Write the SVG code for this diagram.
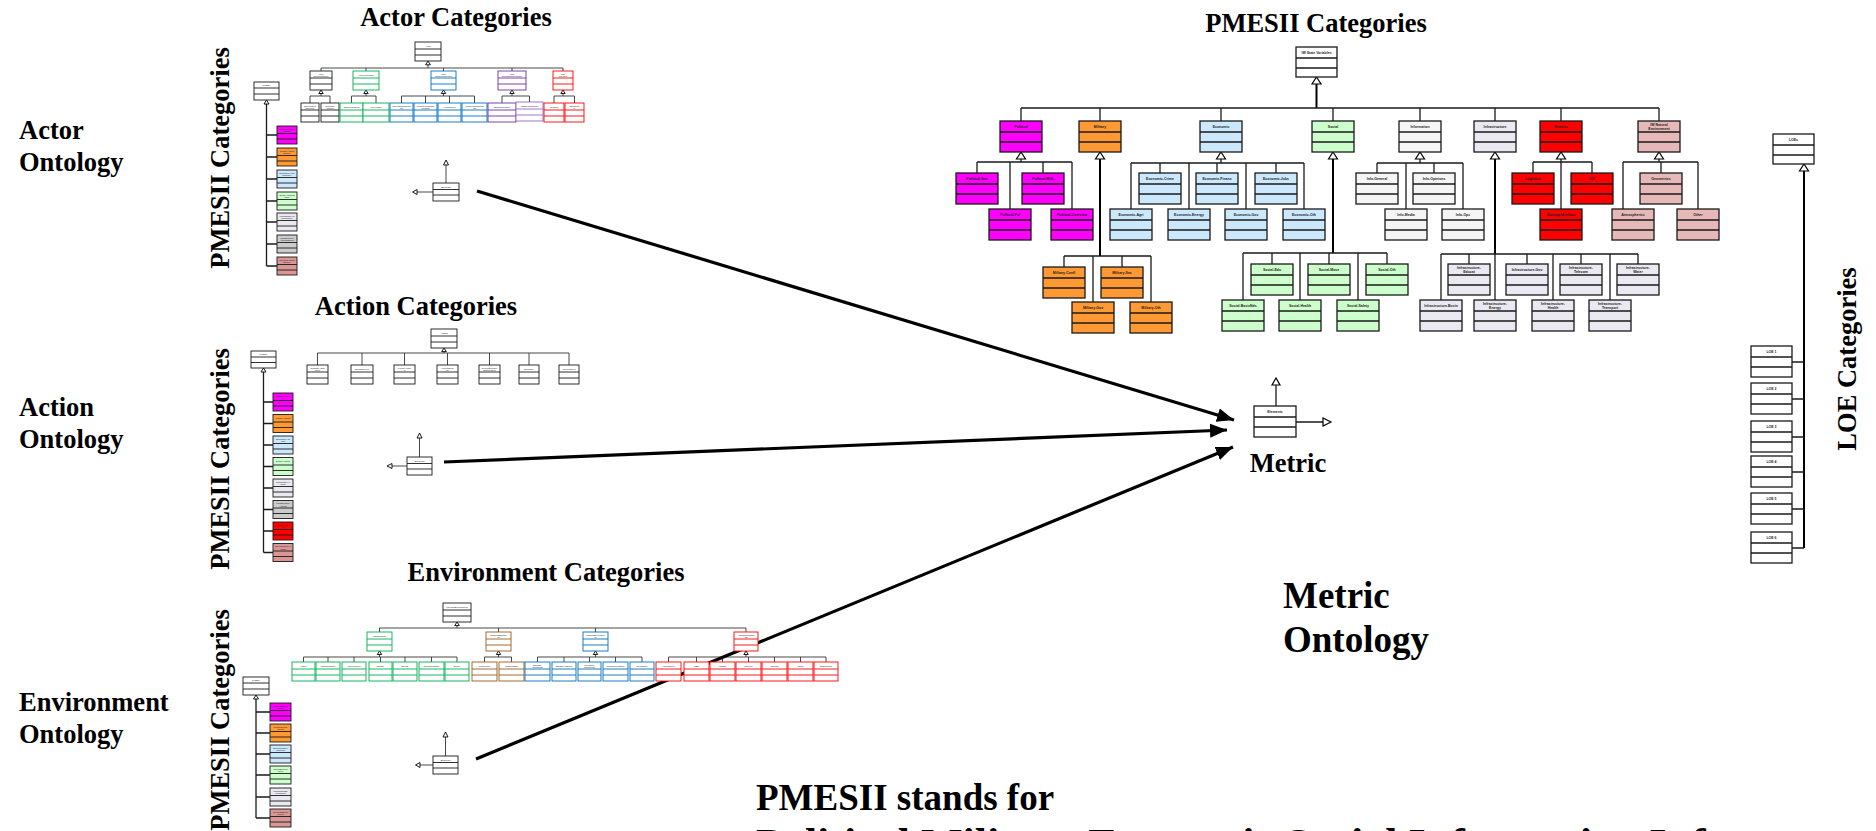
<svg xmlns="http://www.w3.org/2000/svg" width="1876" height="831" viewBox="0 0 1876 831">
<defs>
<style>
.h{font-family:"Liberation Serif","Times New Roman",serif;font-weight:bold;fill:#000}
.t26{font-size:26.5px}
.t37{font-size:37px}
.t44{font-size:44px}
.mid{text-anchor:middle}
.s{font-family:"Liberation Sans",Arial,sans-serif;font-size:2.3px;text-anchor:middle;fill:#222;stroke:none}
.p{font-family:"Liberation Sans",Arial,sans-serif;font-size:3.5px;font-weight:bold;text-anchor:middle;fill:#222;stroke:none}
.bx{stroke:#1a1a1a;stroke-width:0.9;fill:none}
.pb{stroke:#1a1a1a;stroke-width:1.3;fill:none}
.sk{stroke:#1a1a1a}.sg{stroke:#00B050}.sb{stroke:#0070C0}.sp{stroke:#7030A0}.sp2{stroke:#9966CC}.sr{stroke:#FF0000}.sn{stroke:#9C5A1E}
.w{fill:#fff}.mag{fill:#FF00FF}.org{fill:#FF9933}.lb{fill:#CCE8FC}.lg{fill:#CCFFCC}.inf{fill:#F5F5F5}.lav{fill:#EAE8F0}.gr{fill:#CCCCCC}.red{fill:#FF0000}.sal{fill:#D99694}.pnk{fill:#E6B9B8}
.ln{fill:none;stroke:#333;stroke-width:0.9}
.lk{fill:none;stroke:#1a1a1a;stroke-width:1.3}
.tk{fill:none;stroke:#000;stroke-width:2}
.tri{fill:#fff;stroke:#000;stroke-width:0.9}
.trp{fill:#fff;stroke:#000;stroke-width:1.2}
.big{fill:none;stroke:#000;stroke-width:3.2;marker-end:url(#ah)}
</style>
<marker id="ah" markerUnits="userSpaceOnUse" markerWidth="18" markerHeight="16" refX="17" refY="8" orient="auto">
<path d="M0 1L17 8L0 15z" fill="#000"/>
</marker>
</defs>
<rect width="1876" height="831" fill="#fff"/>

<!-- headings -->
<g id="labels">
<text class="h t26" x="19" y="139">Actor</text>
<text class="h t26" x="19" y="171">Ontology</text>
<text class="h t26" x="19" y="416">Action</text>
<text class="h t26" x="19" y="448">Ontology</text>
<text class="h t26" x="19" y="711">Environment</text>
<text class="h t26" x="19" y="743">Ontology</text>
<text class="h t26 mid" transform="translate(229 158) rotate(-90)">PMESII Categories</text>
<text class="h t26 mid" transform="translate(229 459) rotate(-90)">PMESII Categories</text>
<text class="h t26 mid" transform="translate(229 720) rotate(-90)">PMESII Categories</text>
<text class="h t26 mid" transform="translate(1856 359) rotate(-90)">LOE Categories</text>
<text class="h t26 mid" x="456" y="26">Actor Categories</text>
<text class="h t26 mid" x="416" y="315">Action Categories</text>
<text class="h t26 mid" x="546" y="581">Environment Categories</text>
<text class="h t26 mid" x="1316" y="32">PMESII Categories</text>
<text class="h t26 mid" x="1288" y="472">Metric</text>
<text class="h t37" x="1283" y="608">Metric</text>
<text class="h t37" x="1283" y="652">Ontology</text>
<text class="h t37" x="756" y="810">PMESII stands for</text>
<text class="h t44" x="756" y="859">Political Military Economic Social Information Infrastructure</text>
</g>

<!-- connectors -->
<g id="connectors">
<!-- actor tree -->
<path class="ln" d="M428 65V68M321 68H563M321 68V71M366 68V71M443.5 68V71M512 68V71M563 68V71"/>
<path class="ln" d="M321 93.5V96M310 96H330M310 96V103M330 96V103"/>
<path class="ln" d="M366 93.5V96M351.5 96H376M351.5 96V103M376 96V103"/>
<path class="ln" d="M443.5 93.5V96M401.5 96H474.5M401.5 96V103M425.5 96V103M449.5 96V103M474.5 96V103"/>
<path class="ln" d="M512 93.5V96M502 96H529.5M502 96V103M529.5 96V103"/>
<path class="ln" d="M563 93.5V96M554 96H574.5M554 96V103M574.5 96V103"/>
<path class="tri" d="M428 61l-2.4 3.8h4.8zM321 90l-2.2 3.5h4.4zM366 90l-2.2 3.5h4.4zM443.5 90l-2.2 3.5h4.4zM512 90l-2.2 3.5h4.4zM563 90l-2.2 3.5h4.4z"/>
<path class="ln" d="M446 183V165M433 192H417"/>
<path class="tri" d="M446 160l-2.5 5h5zM412.5 192l4.5-2.5v5z"/>
<path class="lk" d="M266.5 104V266M266.5 135H277M266.5 157H277M266.5 179H277M266.5 201H277M266.5 222H277M266.5 244H277M266.5 266H277"/>
<path class="tri" d="M266.5 100l-2.5 4h5z"/>
<!-- action tree -->
<path class="ln" d="M444 351.6V353M317.5 353H569M317.5 353V365M362 353V365M404.5 353V365M447.5 353V365M489.5 353V365M529 353V365M569 353V365"/>
<path class="tri" d="M444 348l-2.3 3.6h4.6z"/>
<path class="ln" d="M419.5 457V438M407 466H392"/>
<path class="tri" d="M419.5 433l-2.5 5h5zM387 466l5-2.5v5z"/>
<path class="lk" d="M263.5 372V552.5M263.5 402H273M263.5 423.5H273M263.5 445H273M263.5 466.5H273M263.5 488H273M263.5 509.5H273M263.5 531H273M263.5 552.5H273"/>
<path class="tri" d="M263.5 368l-2.5 4h5z"/>
<!-- environment tree -->
<path class="ln" d="M457 625.6V628M379.5 628H746M379.5 628V632M498.5 628V632M595.5 628V632M746 628V632"/>
<path class="ln" d="M379.5 654.5V657M303.5 657H457M303.5 657V662M328 657V662M354 657V662M380.5 657V662M405 657V662M431.5 657V662M457 657V662"/>
<path class="ln" d="M498.5 654.5V657M484.5 657H511.5M484.5 657V662M511.5 657V662"/>
<path class="ln" d="M595.5 654.5V657M537.5 657H642M537.5 657V662M564 657V662M589.5 657V662M615.5 657V662M642 657V662"/>
<path class="ln" d="M746 654.5V657M668.5 657H826M668.5 657V662M696.5 657V662M722.5 657V662M748.5 657V662M774.5 657V662M800.5 657V662M826 657V662"/>
<path class="tri" d="M457 622l-2.3 3.6h4.6zM379.5 651l-2.2 3.5h4.4zM498.5 651l-2.2 3.5h4.4zM595.5 651l-2.2 3.5h4.4zM746 651l-2.2 3.5h4.4z"/>
<path class="ln" d="M445.5 756V737M433 765H420"/>
<path class="tri" d="M445.5 732l-2.5 5h5zM415.5 765l4.5-2.5v5z"/>
<path class="lk" d="M256 699V818M256 712H270M256 733H270M256 754H270M256 775H270M256 797H270M256 818H270"/>
<path class="tri" d="M256 695l-2.5 4h5z"/>
<!-- PMESII tree -->
<path class="tk" d="M1316.5 84V108"/>
<path class="lk" d="M1021 108H1659M1021 108V121M1100 108V121M1221 108V121M1333 108V121M1420 108V121M1495 108V121M1561 108V121M1659 108V121"/>
<path class="lk" d="M1021 159V162M977 162H1072M977 162V173M1043 162V173M1010 162V209M1072 162V209"/>
<path class="tk" d="M1100 159V256"/>
<path class="lk" d="M1064 256H1151M1064 256V267M1122 256V267M1093 256V302M1151 256V302"/>
<path class="lk" d="M1221 159V163M1131 163H1304M1160 163V173M1217 163V173M1276 163V173M1131 163V209M1189 163V209M1246 163V209M1304 163V209"/>
<path class="tk" d="M1333 159V253"/>
<path class="lk" d="M1243 253H1387M1272 253V264M1329 253V264M1387 253V264M1243 253V300M1300 253V300M1358 253V300"/>
<path class="lk" d="M1420 159V163M1377 163H1463M1377 163V173M1434 163V173M1406 163V209M1463 163V209"/>
<path class="tk" d="M1495 159V254"/>
<path class="lk" d="M1441 254H1638M1469 254V264M1527 254V264M1581 254V264M1638 254V264M1441 254V300M1495 254V300M1553 254V300M1610 254V300"/>
<path class="lk" d="M1533 162H1592M1533 162V173M1592 162V173M1561 159V209"/>
<path class="lk" d="M1659 159V162M1623 162H1698M1661 162V173M1623 162V209M1698 162V209"/>
<path class="trp" d="M1316.5 77l-4.5 7h9zM1021 152l-4.5 7h9zM1100 152l-4.5 7h9zM1221 152l-4.5 7h9zM1333 152l-4.5 7h9zM1420 152l-4.5 7h9zM1495 152l-4.5 7h9zM1561 152l-4.5 7h9zM1659 152l-4.5 7h9z"/>
<!-- LOE tree -->
<path class="tk" d="M1804 171V548"/>
<path class="lk" d="M1792 362H1804M1792 399H1804M1792 437H1804M1792 472H1804M1792 509H1804M1792 548H1804"/>
<path class="trp" d="M1804 164l-4.5 7h9z"/>
<!-- metric -->
<path class="lk" d="M1276 406V385M1296 422H1323"/>
<path class="trp" d="M1276 378l-4 7h8zM1331 422l-8-4v8z"/>
<!-- elements feeding the metric -->
<path class="big" d="M477 191L1234 420"/>
<path class="big" d="M444 462L1227 430"/>
<path class="big" d="M476 759L1233 447"/>
</g>

<!-- actor ontology -->
<g id="actor-root" class="bx sk"><rect class="w" x="415" y="42" width="26" height="19"/><path d="M415 49h26M415 55h26"/><text class="s" x="428" y="47">Actor</text></g>
<g id="actor-noncombatant" class="bx sk"><rect class="w" x="310" y="71" width="22" height="19"/><path d="M310 78h22M310 84h22"/><text class="s" x="321" y="74.5">Actor-</text><text class="s" x="321" y="77">Noncombatant</text></g>
<g id="actor-individual" class="bx sg"><rect class="w" x="353" y="71" width="26" height="19"/><path d="M353 78h26M353 84h26"/><text class="s" x="366" y="76">Actor-Individual</text></g>
<g id="actor-organized" class="bx sb"><rect class="w" x="431" y="71" width="25" height="19"/><path d="M431 78h25M431 84h25"/><text class="s" x="443.5" y="74.5">Actor-</text><text class="s" x="443.5" y="77">OrganizedGroup</text></g>
<g id="actor-demographic" class="bx sp"><rect class="w" x="498" y="71" width="28" height="19"/><path d="M498 78h28M498 84h28"/><text class="s" x="512" y="74.5">Actor-</text><text class="s" x="512" y="77">DemographicGroup</text></g>
<g id="actor-physical" class="bx sr"><rect class="w" x="553" y="71" width="20" height="19"/><path d="M553 78h20M553 84h20"/><text class="s" x="563" y="74.5">Actor-</text><text class="s" x="563" y="77">Physical</text></g>
<g id="actor-nonpolitical" class="bx sk"><rect class="w" x="301" y="103" width="18" height="19"/><path d="M301 110h18M301 116h18"/><text class="s" x="310" y="106.5">NonPolitical</text><text class="s" x="310" y="109">Element</text></g>
<g id="actor-common" class="bx sk"><rect class="w" x="321" y="103" width="18" height="19"/><path d="M321 110h18M321 116h18"/><text class="s" x="330" y="106.5">Common</text><text class="s" x="330" y="109">Citizen</text></g>
<g id="actor-other-individual" class="bx sg"><rect class="w" x="340" y="103" width="23" height="19"/><path d="M340 110h23M340 116h23"/><text class="s" x="351.5" y="108">OtherIndividual</text></g>
<g id="actor-keyleader" class="bx sg"><rect class="w" x="363" y="103" width="26" height="19"/><path d="M363 110h26M363 116h26"/><text class="s" x="376" y="108">KeyLeader</text></g>
<g id="actor-societal-org" class="bx sb"><rect class="w" x="390" y="103" width="23" height="19"/><path d="M390 110h23M390 116h23"/><text class="s" x="401.5" y="106.5">SocietalOrganizat</text><text class="s" x="401.5" y="109">ion</text></g>
<g id="actor-commercial-org" class="bx sb"><rect class="w" x="414" y="103" width="23" height="19"/><path d="M414 110h23M414 116h23"/><text class="s" x="425.5" y="106.5">CommercialOrga</text><text class="s" x="425.5" y="109">nization</text></g>
<g id="actor-armed-force" class="bx sb"><rect class="w" x="438" y="103" width="23" height="19"/><path d="M438 110h23M438 116h23"/><text class="s" x="449.5" y="108">ArmedForce</text></g>
<g id="actor-political-org" class="bx sb"><rect class="w" x="462" y="103" width="25" height="19"/><path d="M462 110h25M462 116h25"/><text class="s" x="474.5" y="106.5">PoliticalOrganizat</text><text class="s" x="474.5" y="109">ion</text></g>
<g id="actor-static-pop" class="bx sp"><rect class="w" x="488" y="103" width="28" height="19"/><path d="M488 110h28M488 116h28"/><text class="s" x="502" y="108">StaticPopulation</text></g>
<g id="actor-mobile-pop" class="bx sp2"><rect class="w" x="516" y="102" width="27" height="19"/><path d="M516 109h27M516 115h27"/><text class="s" x="529.5" y="107">MobilePopulation</text></g>
<g id="actor-vehicle" class="bx sr"><rect class="w" x="544" y="103" width="20" height="19"/><path d="M544 110h20M544 116h20"/><text class="s" x="554" y="108">Vehicles</text></g>
<g id="actor-structure" class="bx sr"><rect class="w" x="565" y="103" width="19" height="19"/><path d="M565 110h19M565 116h19"/><text class="s" x="574.5" y="106.5">Structural</text><text class="s" x="574.5" y="109">el</text></g>
<g id="actor-elements" class="bx sk"><rect class="w" x="433" y="183" width="26" height="18"/><path d="M433 189.5h26M433 195h26"/><text class="s" x="446" y="187.5">Elements</text></g>
<g id="actor-pmesii" class="bx sk"><rect class="w" x="254" y="82" width="25" height="18"/><path d="M254 88h25M254 94h25"/><text class="s" x="266.5" y="86">PMESII</text></g>
<g id="actor-p1" class="bx sk"><rect class="mag" x="277" y="126" width="20" height="18"/><path d="M277 133.5h20M277 139h20"/><text class="s" x="287" y="129.5">PoliticalActorC</text><text class="s" x="287" y="132">ategory</text></g>
<g id="actor-p2" class="bx sk"><rect class="org" x="277" y="148" width="20" height="18"/><path d="M277 155.5h20M277 161h20"/><text class="s" x="287" y="151.5">MilitaryActorC</text><text class="s" x="287" y="154">ategory</text></g>
<g id="actor-p3" class="bx sk"><rect class="lb" x="277" y="170" width="20" height="18"/><path d="M277 177.5h20M277 183h20"/><text class="s" x="287" y="173.5">EconomicActor</text><text class="s" x="287" y="176">Category</text></g>
<g id="actor-p4" class="bx sk"><rect class="lg" x="277" y="192" width="20" height="18"/><path d="M277 199.5h20M277 205h20"/><text class="s" x="287" y="195.5">SocialActorCat</text><text class="s" x="287" y="198">egory</text></g>
<g id="actor-p5" class="bx sk"><rect class="lav" x="277" y="213" width="20" height="18"/><path d="M277 220.5h20M277 226h20"/><text class="s" x="287" y="216.5">InformationAct</text><text class="s" x="287" y="219">orCategory</text></g>
<g id="actor-p6" class="bx sk"><rect class="gr" x="277" y="235" width="20" height="18"/><path d="M277 242.5h20M277 248h20"/><text class="s" x="287" y="238.5">Infrastructure</text><text class="s" x="287" y="241">ActorCategory</text></g>
<g id="actor-p7" class="bx sk"><rect class="sal" x="277" y="257" width="20" height="18"/><path d="M277 264.5h20M277 270h20"/><text class="s" x="287" y="260.5">PhysicalActorC</text><text class="s" x="287" y="263">ategory</text></g>

<!-- action ontology -->
<g id="action-root" class="bx sk"><rect class="w" x="431" y="329" width="26" height="19"/><path d="M431 336h26M431 342h26"/><text class="s" x="444" y="334">Actions</text></g>
<g id="action-1" class="bx sk"><rect class="w" x="307" y="365" width="21" height="19"/><path d="M307 372h21M307 378h21"/><text class="s" x="317.5" y="368.5">DamageAttrib</text><text class="s" x="317.5" y="371">ution</text></g>
<g id="action-2" class="bx sk"><rect class="w" x="351" y="365" width="22" height="19"/><path d="M351 372h22M351 378h22"/><text class="s" x="362" y="370">DemandPerm</text></g>
<g id="action-3" class="bx sk"><rect class="w" x="394" y="365" width="21" height="19"/><path d="M394 372h21M394 378h21"/><text class="s" x="404.5" y="368.5">KineticAction</text><text class="s" x="404.5" y="371">s</text></g>
<g id="action-4" class="bx sk"><rect class="w" x="437" y="365" width="21" height="19"/><path d="M437 372h21M437 378h21"/><text class="s" x="447.5" y="368.5">KineticSecu</text><text class="s" x="447.5" y="371">rity</text></g>
<g id="action-5" class="bx sk"><rect class="w" x="479" y="365" width="21" height="19"/><path d="M479 372h21M479 378h21"/><text class="s" x="489.5" y="368.5">Reconstruction</text><text class="s" x="489.5" y="371">Stabilization</text></g>
<g id="action-6" class="bx sk"><rect class="w" x="519" y="365" width="20" height="19"/><path d="M519 372h20M519 378h20"/><text class="s" x="529" y="370">Economy</text></g>
<g id="action-7" class="bx sk"><rect class="w" x="559" y="365" width="20" height="19"/><path d="M559 372h20M559 378h20"/><text class="s" x="569" y="370">Government</text></g>
<g id="action-elements" class="bx sk"><rect class="w" x="407" y="457" width="25" height="18"/><path d="M407 463.5h25M407 469h25"/><text class="s" x="419.5" y="461.5">Elements</text></g>
<g id="action-pmesii" class="bx sk"><rect class="w" x="251" y="351" width="25" height="17"/><path d="M251 357h25M251 362.5h25"/><text class="s" x="263.5" y="355">PMESII</text></g>
<g id="action-p1" class="bx sk"><rect class="mag" x="273" y="393" width="20" height="18"/><path d="M273 400.5h20M273 406h20"/><text class="s" x="283" y="396.5">PoliticalAction</text><text class="s" x="283" y="399">s</text></g>
<g id="action-p2" class="bx sk"><rect class="org" x="273" y="414.5" width="20" height="18"/><path d="M273 422h20M273 427.5h20"/><text class="s" x="283" y="419">MilitaryActions</text></g>
<g id="action-p3" class="bx sk"><rect class="lb" x="273" y="436" width="20" height="18"/><path d="M273 443.5h20M273 449h20"/><text class="s" x="283" y="439.5">EconomicActi</text><text class="s" x="283" y="442">ons</text></g>
<g id="action-p4" class="bx sk"><rect class="lg" x="273" y="457.5" width="20" height="18"/><path d="M273 465h20M273 470.5h20"/><text class="s" x="283" y="462">SocialActions</text></g>
<g id="action-p5" class="bx sk"><rect class="lav" x="273" y="479" width="20" height="18"/><path d="M273 486.5h20M273 492h20"/><text class="s" x="283" y="482.5">InformationAc</text><text class="s" x="283" y="485">tions</text></g>
<g id="action-p6" class="bx sk"><rect class="gr" x="273" y="500.5" width="20" height="18"/><path d="M273 508h20M273 513.5h20"/><text class="s" x="283" y="504">Infrastructure</text><text class="s" x="283" y="506.5">Actions</text></g>
<g id="action-p7" class="bx sk"><rect class="red" x="273" y="522" width="20" height="18"/><path d="M273 529.5h20M273 535h20"/><text class="s" x="283" y="525.5">KineticAction</text><text class="s" x="283" y="528">s</text></g>
<g id="action-p8" class="bx sk"><rect class="sal" x="273" y="543.5" width="20" height="18"/><path d="M273 551h20M273 556.5h20"/><text class="s" x="283" y="547">EnvironmentAc</text><text class="s" x="283" y="549.5">tions</text></g>

<!-- environment ontology -->
<g id="env-root" class="bx sk"><rect class="w" x="443" y="603" width="28" height="19"/><path d="M443 610h28M443 616h28"/><text class="s" x="457" y="608">PhysicalEnvironment</text></g>
<g id="env-infrastructure" class="bx sg"><rect class="w" x="367" y="632" width="25" height="19"/><path d="M367 639h25M367 645h25"/><text class="s" x="379.5" y="637">Infrastructure</text></g>
<g id="env-cultural" class="bx sn"><rect class="w" x="486" y="632" width="25" height="19"/><path d="M486 639h25M486 645h25"/><text class="s" x="498.5" y="635.5">CulturalEquipme</text><text class="s" x="498.5" y="638">nt</text></g>
<g id="env-natural" class="bx sb"><rect class="w" x="583" y="632" width="25" height="19"/><path d="M583 639h25M583 645h25"/><text class="s" x="595.5" y="635.5">NaturalEnvironme</text><text class="s" x="595.5" y="638">nt</text></g>
<g id="env-atmospheric" class="bx sr"><rect class="w" x="734" y="632" width="24" height="19"/><path d="M734 639h24M734 645h24"/><text class="s" x="746" y="635.5">AtmosphericEffe</text><text class="s" x="746" y="638">cts</text></g>
<g id="env-g1" class="bx sg"><rect class="w" x="292" y="662" width="23" height="19"/><path d="M292 669h23M292 675h23"/><text class="s" x="303.5" y="667">Water</text></g>
<g id="env-g2" class="bx sg"><rect class="w" x="316" y="662" width="24" height="19"/><path d="M316 669h24M316 675h24"/><text class="s" x="328" y="667">Transportation</text></g>
<g id="env-g3" class="bx sg"><rect class="w" x="342" y="662" width="24" height="19"/><path d="M342 669h24M342 675h24"/><text class="s" x="354" y="667">Government</text></g>
<g id="env-g4" class="bx sg"><rect class="w" x="369" y="662" width="23" height="19"/><path d="M369 669h23M369 675h23"/><text class="s" x="380.5" y="667">Shelter</text></g>
<g id="env-g5" class="bx sg"><rect class="w" x="393" y="662" width="24" height="19"/><path d="M393 669h24M393 675h24"/><text class="s" x="405" y="667">Energy</text></g>
<g id="env-g6" class="bx sg"><rect class="w" x="419" y="662" width="25" height="19"/><path d="M419 669h25M419 675h25"/><text class="s" x="431.5" y="667">SewerDrainage</text></g>
<g id="env-g7" class="bx sg"><rect class="w" x="445" y="662" width="24" height="19"/><path d="M445 669h24M445 675h24"/><text class="s" x="457" y="667">Social</text></g>
<g id="env-n1" class="bx sn"><rect class="w" x="472" y="662" width="25" height="19"/><path d="M472 669h25M472 675h25"/><text class="s" x="484.5" y="667">Resources</text></g>
<g id="env-n2" class="bx sn"><rect class="w" x="499" y="662" width="25" height="19"/><path d="M499 669h25M499 675h25"/><text class="s" x="511.5" y="667">CulturalSites</text></g>
<g id="env-b1" class="bx sb"><rect class="w" x="525" y="662" width="25" height="19"/><path d="M525 669h25M525 675h25"/><text class="s" x="537.5" y="665.5">Disaster-</text><text class="s" x="537.5" y="668">WorldWide</text></g>
<g id="env-b2" class="bx sb"><rect class="w" x="552" y="662" width="24" height="19"/><path d="M552 669h24M552 675h24"/><text class="s" x="564" y="667">Disaster-Natural</text></g>
<g id="env-b3" class="bx sb"><rect class="w" x="578" y="662" width="23" height="19"/><path d="M578 669h23M578 675h23"/><text class="s" x="589.5" y="665.5">Condition-</text><text class="s" x="589.5" y="668">WorldWide</text></g>
<g id="env-b4" class="bx sb"><rect class="w" x="603" y="662" width="25" height="19"/><path d="M603 669h25M603 675h25"/><text class="s" x="615.5" y="667">Condition-Natural</text></g>
<g id="env-b5" class="bx sb"><rect class="w" x="630" y="662" width="24" height="19"/><path d="M630 669h24M630 675h24"/><text class="s" x="642" y="667">Geography</text></g>
<g id="env-r1" class="bx sr"><rect class="w" x="656" y="662" width="25" height="19"/><path d="M656 669h25M656 675h25"/><text class="s" x="668.5" y="667">Atmosphere</text></g>
<g id="env-r2" class="bx sr"><rect class="w" x="684" y="662" width="25" height="19"/><path d="M684 669h25M684 675h25"/><text class="s" x="696.5" y="667">Light</text></g>
<g id="env-r3" class="bx sr"><rect class="w" x="710" y="662" width="25" height="19"/><path d="M710 669h25M710 675h25"/><text class="s" x="722.5" y="667">Sights</text></g>
<g id="env-r4" class="bx sr"><rect class="w" x="736" y="662" width="25" height="19"/><path d="M736 669h25M736 675h25"/><text class="s" x="748.5" y="667">Opinion</text></g>
<g id="env-r5" class="bx sr"><rect class="w" x="762" y="662" width="25" height="19"/><path d="M762 669h25M762 675h25"/><text class="s" x="774.5" y="667">Comfort</text></g>
<g id="env-r6" class="bx sr"><rect class="w" x="788" y="662" width="25" height="19"/><path d="M788 669h25M788 675h25"/><text class="s" x="800.5" y="667">Noise</text></g>
<g id="env-r7" class="bx sr"><rect class="w" x="814" y="662" width="24" height="19"/><path d="M814 669h24M814 675h24"/><text class="s" x="826" y="667">Distractions</text></g>
<g id="env-elements" class="bx sk"><rect class="w" x="433" y="756" width="25" height="18"/><path d="M433 762.5h25M433 768h25"/><text class="s" x="445.5" y="760.5">Elements</text></g>
<g id="env-pmesii" class="bx sk"><rect class="w" x="243" y="677" width="26" height="18"/><path d="M243 683h26M243 689h26"/><text class="s" x="256" y="681">PMESII</text></g>
<g id="env-p1" class="bx sk"><rect class="mag" x="270" y="703" width="21" height="18"/><path d="M270 710.5h21M270 716h21"/><text class="s" x="280.5" y="706.5">PoliticalEnviro</text><text class="s" x="280.5" y="709">nment</text></g>
<g id="env-p2" class="bx sk"><rect class="org" x="270" y="724" width="21" height="18"/><path d="M270 731.5h21M270 737h21"/><text class="s" x="280.5" y="727.5">MilitaryEnviro</text><text class="s" x="280.5" y="730">nment</text></g>
<g id="env-p3" class="bx sk"><rect class="lb" x="270" y="745" width="21" height="18"/><path d="M270 752.5h21M270 758h21"/><text class="s" x="280.5" y="748.5">EconomicEnvi</text><text class="s" x="280.5" y="751">ronment</text></g>
<g id="env-p4" class="bx sk"><rect class="lg" x="270" y="766" width="21" height="18"/><path d="M270 773.5h21M270 779h21"/><text class="s" x="280.5" y="769.5">SocialEnviron</text><text class="s" x="280.5" y="772">ment</text></g>
<g id="env-p5" class="bx sk"><rect class="lav" x="270" y="788" width="21" height="18"/><path d="M270 795.5h21M270 801h21"/><text class="s" x="280.5" y="791.5">InformationEn</text><text class="s" x="280.5" y="794">vironment</text></g>
<g id="env-p6" class="bx sk"><rect class="sal" x="270" y="809" width="21" height="18"/><path d="M270 816.5h21M270 822h21"/><text class="s" x="280.5" y="812.5">PhysicalEnviro</text><text class="s" x="280.5" y="815">nment</text></g>

<!-- PMESII categories -->
<g id="pm-root" class="pb"><rect class="w" x="1296" y="47" width="41" height="30"/><path d="M1296 58h41M1296 68h41"/><text class="p" x="1316.5" y="54">IW State Variables</text></g>
<g id="pm-political" class="pb"><rect class="mag" x="1000" y="121" width="42" height="31"/><path d="M1000 132h42M1000 142h42"/><text class="p" x="1021" y="128.3">Political</text></g>
<g id="pm-military" class="pb"><rect class="org" x="1079" y="121" width="42" height="31"/><path d="M1079 132h42M1079 142h42"/><text class="p" x="1100" y="128.3">Military</text></g>
<g id="pm-economic" class="pb"><rect class="lb" x="1200" y="121" width="42" height="31"/><path d="M1200 132h42M1200 142h42"/><text class="p" x="1221" y="128.3">Economic</text></g>
<g id="pm-social" class="pb"><rect class="lg" x="1312" y="121" width="42" height="31"/><path d="M1312 132h42M1312 142h42"/><text class="p" x="1333" y="128.3">Social</text></g>
<g id="pm-information" class="pb"><rect class="inf" x="1399" y="121" width="42" height="31"/><path d="M1399 132h42M1399 142h42"/><text class="p" x="1420" y="128.3">Information</text></g>
<g id="pm-infrastructure" class="pb"><rect class="lav" x="1474" y="121" width="42" height="31"/><path d="M1474 132h42M1474 142h42"/><text class="p" x="1495" y="128.3">Infrastructure</text></g>
<g id="pm-kinetics" class="pb"><rect class="red" x="1540" y="121" width="42" height="31"/><path d="M1540 132h42M1540 142h42"/><text class="p" x="1561" y="128.3">Kinetics</text></g>
<g id="pm-natural" class="pb"><rect class="pnk" x="1638" y="121" width="42" height="31"/><path d="M1638 132h42M1638 142h42"/><text class="p" x="1659" y="126">IW Natural</text><text class="p" x="1659" y="130.2">Environment</text></g>

<g id="pm-pol-gov" class="pb"><rect class="mag" x="956" y="173" width="42" height="31"/><path d="M956 184h42M956 194h42"/><text class="p" x="977" y="180.3">Political-Gov</text></g>
<g id="pm-pol-rol" class="pb"><rect class="mag" x="1022" y="173" width="42" height="31"/><path d="M1022 184h42M1022 194h42"/><text class="p" x="1043" y="180.3">Political-ROL</text></g>
<g id="pm-pol-pol" class="pb"><rect class="mag" x="989" y="209" width="42" height="31"/><path d="M989 220h42M989 230h42"/><text class="p" x="1010" y="216.3">Political-Pol</text></g>
<g id="pm-pol-overview" class="pb"><rect class="mag" x="1051" y="209" width="42" height="31"/><path d="M1051 220h42M1051 230h42"/><text class="p" x="1072" y="216.3">Political-Overview</text></g>

<g id="pm-mil-confl" class="pb"><rect class="org" x="1043" y="267" width="42" height="31"/><path d="M1043 278h42M1043 288h42"/><text class="p" x="1064" y="274.3">Military-Confl</text></g>
<g id="pm-mil-sec" class="pb"><rect class="org" x="1101" y="267" width="42" height="31"/><path d="M1101 278h42M1101 288h42"/><text class="p" x="1122" y="274.3">Military-Sec</text></g>
<g id="pm-mil-gov" class="pb"><rect class="org" x="1072" y="302" width="42" height="31"/><path d="M1072 313h42M1072 323h42"/><text class="p" x="1093" y="309.3">Military-Gov</text></g>
<g id="pm-mil-oth" class="pb"><rect class="org" x="1130" y="302" width="42" height="31"/><path d="M1130 313h42M1130 323h42"/><text class="p" x="1151" y="309.3">Military-Oth</text></g>

<g id="pm-eco-crime" class="pb"><rect class="lb" x="1139" y="173" width="42" height="31"/><path d="M1139 184h42M1139 194h42"/><text class="p" x="1160" y="180.3">Economic-Crime</text></g>
<g id="pm-eco-financ" class="pb"><rect class="lb" x="1196" y="173" width="42" height="31"/><path d="M1196 184h42M1196 194h42"/><text class="p" x="1217" y="180.3">Economic-Financ</text></g>
<g id="pm-eco-jobs" class="pb"><rect class="lb" x="1255" y="173" width="42" height="31"/><path d="M1255 184h42M1255 194h42"/><text class="p" x="1276" y="180.3">Economic-Jobs</text></g>
<g id="pm-eco-agri" class="pb"><rect class="lb" x="1110" y="209" width="42" height="31"/><path d="M1110 220h42M1110 230h42"/><text class="p" x="1131" y="216.3">Economic-Agri</text></g>
<g id="pm-eco-energy" class="pb"><rect class="lb" x="1168" y="209" width="42" height="31"/><path d="M1168 220h42M1168 230h42"/><text class="p" x="1189" y="216.3">Economic-Energy</text></g>
<g id="pm-eco-gov" class="pb"><rect class="lb" x="1225" y="209" width="42" height="31"/><path d="M1225 220h42M1225 230h42"/><text class="p" x="1246" y="216.3">Economic-Gov</text></g>
<g id="pm-eco-oth" class="pb"><rect class="lb" x="1283" y="209" width="42" height="31"/><path d="M1283 220h42M1283 230h42"/><text class="p" x="1304" y="216.3">Economic-Oth</text></g>

<g id="pm-soc-edu" class="pb"><rect class="lg" x="1251" y="264" width="42" height="31"/><path d="M1251 275h42M1251 285h42"/><text class="p" x="1272" y="271.3">Social-Edu</text></g>
<g id="pm-soc-move" class="pb"><rect class="lg" x="1308" y="264" width="42" height="31"/><path d="M1308 275h42M1308 285h42"/><text class="p" x="1329" y="271.3">Social-Move</text></g>
<g id="pm-soc-oth" class="pb"><rect class="lg" x="1366" y="264" width="42" height="31"/><path d="M1366 275h42M1366 285h42"/><text class="p" x="1387" y="271.3">Social-Oth</text></g>
<g id="pm-soc-basic" class="pb"><rect class="lg" x="1222" y="300" width="42" height="31"/><path d="M1222 311h42M1222 321h42"/><text class="p" x="1243" y="307.3">Social-BasicNds</text></g>
<g id="pm-soc-health" class="pb"><rect class="lg" x="1279" y="300" width="42" height="31"/><path d="M1279 311h42M1279 321h42"/><text class="p" x="1300" y="307.3">Social-Health</text></g>
<g id="pm-soc-safety" class="pb"><rect class="lg" x="1337" y="300" width="42" height="31"/><path d="M1337 311h42M1337 321h42"/><text class="p" x="1358" y="307.3">Social-Safety</text></g>

<g id="pm-info-general" class="pb"><rect class="inf" x="1356" y="173" width="42" height="31"/><path d="M1356 184h42M1356 194h42"/><text class="p" x="1377" y="180.3">Info-General</text></g>
<g id="pm-info-opinions" class="pb"><rect class="inf" x="1413" y="173" width="42" height="31"/><path d="M1413 184h42M1413 194h42"/><text class="p" x="1434" y="180.3">Info-Opinions</text></g>
<g id="pm-info-media" class="pb"><rect class="inf" x="1385" y="209" width="42" height="31"/><path d="M1385 220h42M1385 230h42"/><text class="p" x="1406" y="216.3">Info-Media</text></g>
<g id="pm-info-ops" class="pb"><rect class="inf" x="1442" y="209" width="42" height="31"/><path d="M1442 220h42M1442 230h42"/><text class="p" x="1463" y="216.3">Info-Ops</text></g>

<g id="pm-inf-educat" class="pb"><rect class="lav" x="1448" y="264" width="42" height="31"/><path d="M1448 275h42M1448 285h42"/><text class="p" x="1469" y="269">Infrastructure-</text><text class="p" x="1469" y="273.2">Educat</text></g>
<g id="pm-inf-gov" class="pb"><rect class="lav" x="1506" y="264" width="42" height="31"/><path d="M1506 275h42M1506 285h42"/><text class="p" x="1527" y="271.3">Infrastructure-Gov</text></g>
<g id="pm-inf-telecom" class="pb"><rect class="lav" x="1560" y="264" width="42" height="31"/><path d="M1560 275h42M1560 285h42"/><text class="p" x="1581" y="269">Infrastructure-</text><text class="p" x="1581" y="273.2">Telecom</text></g>
<g id="pm-inf-water" class="pb"><rect class="lav" x="1617" y="264" width="42" height="31"/><path d="M1617 275h42M1617 285h42"/><text class="p" x="1638" y="269">Infrastructure-</text><text class="p" x="1638" y="273.2">Water</text></g>
<g id="pm-inf-busin" class="pb"><rect class="lav" x="1420" y="300" width="42" height="31"/><path d="M1420 311h42M1420 321h42"/><text class="p" x="1441" y="307.3">Infrastructure-Busin</text></g>
<g id="pm-inf-energy" class="pb"><rect class="lav" x="1474" y="300" width="42" height="31"/><path d="M1474 311h42M1474 321h42"/><text class="p" x="1495" y="305">Infrastructure-</text><text class="p" x="1495" y="309.2">Energy</text></g>
<g id="pm-inf-health" class="pb"><rect class="lav" x="1532" y="300" width="42" height="31"/><path d="M1532 311h42M1532 321h42"/><text class="p" x="1553" y="305">Infrastructure-</text><text class="p" x="1553" y="309.2">Health</text></g>
<g id="pm-inf-transport" class="pb"><rect class="lav" x="1589" y="300" width="42" height="31"/><path d="M1589 311h42M1589 321h42"/><text class="p" x="1610" y="305">Infrastructure-</text><text class="p" x="1610" y="309.2">Transport</text></g>

<g id="pm-kin-logistics" class="pb"><rect class="red" x="1512" y="173" width="42" height="31"/><path d="M1512 184h42M1512 194h42"/><text class="p" x="1533" y="180.3">Logistics</text></g>
<g id="pm-kin-c2i" class="pb"><rect class="red" x="1571" y="173" width="42" height="31"/><path d="M1571 184h42M1571 194h42"/><text class="p" x="1592" y="180.3">C2I</text></g>
<g id="pm-kin-damage" class="pb"><rect class="red" x="1540" y="209" width="42" height="31"/><path d="M1540 220h42M1540 230h42"/><text class="p" x="1561" y="216.3">Damage/Attrition</text></g>

<g id="pm-nat-geometrics" class="pb"><rect class="pnk" x="1640" y="173" width="42" height="31"/><path d="M1640 184h42M1640 194h42"/><text class="p" x="1661" y="180.3">Geometrics</text></g>
<g id="pm-nat-atmospherics" class="pb"><rect class="pnk" x="1612" y="209" width="42" height="31"/><path d="M1612 220h42M1612 230h42"/><text class="p" x="1633" y="216.3">Atmospherics</text></g>
<g id="pm-nat-other" class="pb"><rect class="pnk" x="1677" y="209" width="42" height="31"/><path d="M1677 220h42M1677 230h42"/><text class="p" x="1698" y="216.3">Other</text></g>

<!-- LOE categories -->
<g id="loe-root" class="pb"><rect class="w" x="1773" y="134" width="41" height="30"/><path d="M1773 145h41M1773 155h41"/><text class="p" x="1793.5" y="141">LOEs</text></g>
<g id="loe-1" class="pb"><rect class="w" x="1751" y="346" width="41" height="31"/><path d="M1751 357h41M1751 367h41"/><text class="p" x="1771.5" y="353">LOE 1</text></g>
<g id="loe-2" class="pb"><rect class="w" x="1751" y="383" width="41" height="31"/><path d="M1751 394h41M1751 404h41"/><text class="p" x="1771.5" y="390">LOE 2</text></g>
<g id="loe-3" class="pb"><rect class="w" x="1751" y="421" width="41" height="31"/><path d="M1751 432h41M1751 442h41"/><text class="p" x="1771.5" y="428">LOE 3</text></g>
<g id="loe-4" class="pb"><rect class="w" x="1751" y="456" width="41" height="31"/><path d="M1751 467h41M1751 477h41"/><text class="p" x="1771.5" y="463">LOE 4</text></g>
<g id="loe-5" class="pb"><rect class="w" x="1751" y="493" width="41" height="31"/><path d="M1751 504h41M1751 514h41"/><text class="p" x="1771.5" y="500">LOE 5</text></g>
<g id="loe-6" class="pb"><rect class="w" x="1751" y="532" width="41" height="31"/><path d="M1751 543h41M1751 553h41"/><text class="p" x="1771.5" y="539">LOE 6</text></g>

<!-- metric -->
<g id="metric-elements" class="pb"><rect class="w" x="1254" y="406" width="42" height="31"/><path d="M1254 417h42M1254 427h42"/><text class="p" x="1275" y="413">Elements</text></g>
</svg>
